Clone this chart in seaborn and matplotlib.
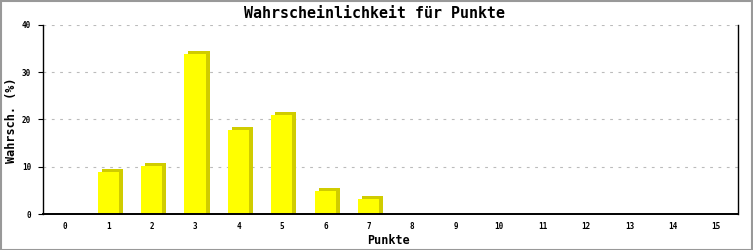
import matplotlib
matplotlib.use("Agg")
import matplotlib.pyplot as plt
import matplotlib.transforms as mtransforms
import seaborn as sns
import pandas as pd

punkte = list(range(16))
wahrsch = [0, 8.9, 10.1, 33.8, 17.8, 20.9, 4.9, 3.2, 0, 0, 0, 0, 0, 0, 0, 0]
y_ticks = [0, 10, 20, 30, 40]

title = "Wahrscheinlichkeit für Punkte"
xlabel = "Punkte"
ylabel = "Wahrsch. (%)"

df = pd.DataFrame({"Punkte": [str(p) for p in punkte], "Wahrsch": wahrsch})

sns.set_style("white")
plt.rcParams["font.family"] = ["DejaVu Sans Mono", "DejaVu Sans"]
plt.rcParams["text.color"] = "black"
plt.rcParams["axes.labelcolor"] = "black"
plt.rcParams["xtick.color"] = "black"
plt.rcParams["ytick.color"] = "black"

fig = plt.figure(figsize=(7.53, 2.50), dpi=100)
fig.patch.set_facecolor("white")
ax = fig.add_axes([43 / 753, 36 / 250, (738 - 43) / 753, (214 - 25) / 250])

shadow_color = "#D0CC00"
# shadow bars (two offsets so the side face reaches the baseline)
for dx, dy in [(4, 0), (4, 3)]:
    n0 = len(ax.patches)
    sns.barplot(data=df, x="Punkte", y="Wahrsch", ax=ax, color=shadow_color,
                saturation=1, width=0.485, zorder=2)
    tr = mtransforms.offset_copy(ax.transData, fig=fig, x=dx, y=dy, units="dots")
    for p in ax.patches[n0:]:
        p.set_transform(tr)
        p.set_linewidth(0)
n_shadow = len(ax.patches)
# front bars
sns.barplot(data=df, x="Punkte", y="Wahrsch", ax=ax, color="#FFFF00",
            saturation=1, width=0.485, zorder=3)
for p in ax.patches[n_shadow:]:
    p.set_linewidth(0)
    p.set_zorder(3)

ax.set_xlim(-0.5, 15.5)
ax.set_ylim(0, 40)
ax.set_yticks(y_ticks)
ax.set_yticklabels([str(v) for v in y_ticks])
ax.yaxis.grid(True, color="#BBBBBB", linestyle=(0, (2.5, 5)), linewidth=0.8, zorder=0)
ax.xaxis.grid(False)
ax.set_axisbelow(True)

for s in ["left", "right", "bottom"]:
    ax.spines[s].set_visible(True)
    ax.spines[s].set_color("black")
ax.spines["left"].set_linewidth(1.0)
ax.spines["right"].set_linewidth(1.0)
ax.spines["bottom"].set_linewidth(1.4)
ax.spines["bottom"].set_zorder(5)
ax.spines["top"].set_visible(False)

ax.tick_params(axis="y", direction="out", length=3.5, width=0.8, labelsize=5.5, pad=5, left=True)
ax.tick_params(axis="x", length=0, labelsize=5.5, pad=6)
for lab in ax.get_xticklabels() + ax.get_yticklabels():
    lab.set_fontweight("bold")

ax.set_xlabel(xlabel, fontsize=8.5, fontweight="bold")
ax.set_ylabel(ylabel, fontsize=8.5, fontweight="bold")
ax.xaxis.set_label_coords(388 / 753, 1 - 240 / 250, transform=fig.transFigure)
ax.xaxis.label.set_va("center")
ax.yaxis.set_label_coords(12 / 753, 1 - 120 / 250, transform=fig.transFigure)
ax.yaxis.label.set_va("center")
fig.text(375 / 753, 1 - 13 / 250, title, ha="center", va="center", fontsize=10.8, fontweight="bold")

# figure border
border = plt.Rectangle((0.0013, 0.002), 0.9973, 0.994, transform=fig.transFigure,
                       fill=False, edgecolor="#999999", linewidth=1.5)
fig.patches.append(border)

fig.savefig("out.png", dpi=100)
